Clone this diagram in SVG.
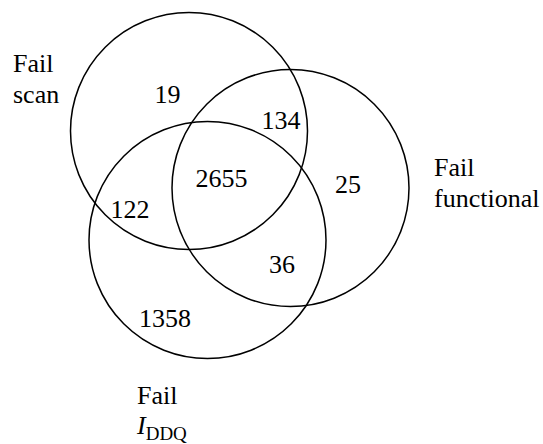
<svg xmlns="http://www.w3.org/2000/svg" width="543" height="444" viewBox="0 0 543 444">
<style>
.c{fill:none;stroke:#000;stroke-width:1.5}
.t{font-family:"Liberation Serif","DejaVu Serif",serif;font-size:26px;fill:#000}
.n{text-anchor:middle}
</style>
<rect width="543" height="444" fill="#fff"/>
<g id="scan"><circle class="c" cx="189" cy="131" r="118.5"/>
<text class="t" x="13" y="72">Fail</text><text class="t" x="13" y="103">scan</text></g>
<g id="functional"><circle class="c" cx="290.5" cy="188" r="118.5"/>
<text class="t" x="434" y="176">Fail</text><text class="t" x="434" y="207">functional</text></g>
<g id="iddq"><circle class="c" cx="207.5" cy="240" r="118.5"/>
<text class="t" x="137" y="404">Fail</text><text class="t" x="137" y="434"><tspan font-style="italic">I</tspan><tspan font-size="19" dy="6">DDQ</tspan></text></g>
<g id="counts">
<text class="t n" x="167.5" y="103">19</text>
<text class="t n" x="281" y="129">134</text>
<text class="t n" x="221.5" y="187">2655</text>
<text class="t n" x="348" y="193">25</text>
<text class="t n" x="130" y="218">122</text>
<text class="t n" x="282" y="273">36</text>
<text class="t n" x="165" y="327">1358</text>
</g>
</svg>
